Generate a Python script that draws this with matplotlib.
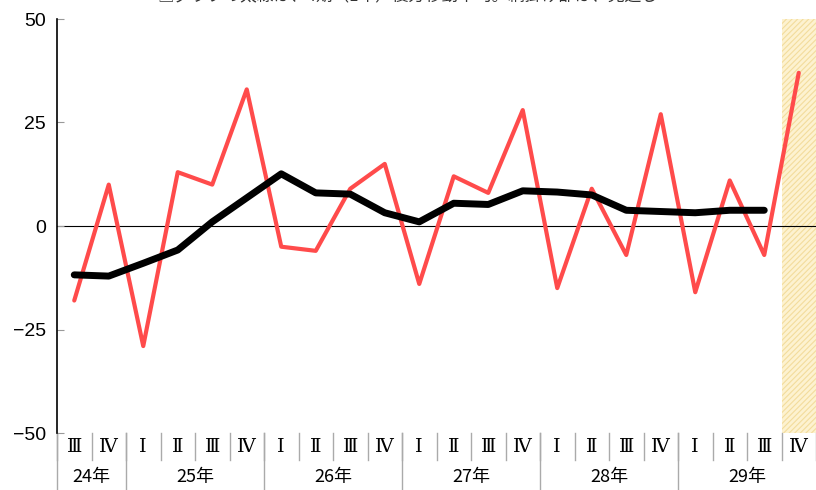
import numpy as np
import matplotlib.pyplot as plt
from matplotlib.patches import Rectangle

plt.rcParams['font.family'] = ['Noto Sans CJK JP', 'DejaVu Sans']
plt.rcParams['hatch.linewidth'] = 0.8

# Quarter labels and year groups
quarters = ['Ⅲ', 'Ⅳ', 'Ⅰ', 'Ⅱ', 'Ⅲ', 'Ⅳ', 'Ⅰ', 'Ⅱ', 'Ⅲ', 'Ⅳ', 'Ⅰ', 'Ⅱ',
            'Ⅲ', 'Ⅳ', 'Ⅰ', 'Ⅱ', 'Ⅲ', 'Ⅳ', 'Ⅰ', 'Ⅱ', 'Ⅲ', 'Ⅳ']
years = ['24年', '25年', '26年', '27年', '28年', '29年']
year_len = [2, 4, 4, 4, 4, 4]

# Quarterly values (thin red line)
values = [-18, 10, -29, 13, 10, 33, -5, -6, 9, 15, -14, 12,
          8, 28, -15, 9, -7, 27, -16, 11, -7, 37]
# 4-quarter moving average (thick black line), ends at 29年 III
moving_avg = [-11.8, -12.1, -9, -5.8, 1, 6.8, 12.6, 8, 7.7, 3.2, 1, 5.5,
              5.2, 8.5, 8.2, 7.5, 3.8, 3.5, 3.2, 3.8, 3.8]

n = len(quarters)
x = np.arange(n)

fig = plt.figure(figsize=(8.16, 4.9), dpi=100)
ax = fig.add_axes([57 / 816, 57 / 490, 1 - 57 / 816, (433 - 19) / 490])

ax.set_xlim(-0.5, n - 0.5)
ax.set_ylim(-50, 50)

# forecast shading
ax.add_patch(Rectangle((n - 1.5, -50), 1, 100, facecolor='#fdf2d0',
                       edgecolor='#f3dc9c', hatch='//////', lw=0, zorder=0))

ax.axhline(0, color='black', lw=0.8, zorder=1)
ax.plot(x, values, color='#ff4b4b', lw=3, solid_capstyle='round',
        solid_joinstyle='round', zorder=2)
ax.plot(x[:len(moving_avg)], moving_avg, color='black', lw=5,
        solid_capstyle='round', solid_joinstyle='round', zorder=3)

for s in ['top', 'right', 'bottom']:
    ax.spines[s].set_visible(False)
ax.spines['left'].set_color('black')
ax.spines['left'].set_linewidth(1.2)

ax.set_yticks([-50, -25, 0, 25, 50])
ax.set_yticklabels(['−50', '−25', '0', '25', '50'], fontsize=14,
                   family=['Liberation Sans', 'DejaVu Sans'])
ax.tick_params(axis='y', direction='in', length=5, color='#999999', pad=8)
ax.set_xticks([])

# category axis drawn below the plot
trans = ax.get_xaxis_transform()
row1 = -27 / 414
row2 = -57 / 414
for i, q in enumerate(quarters):
    ax.text(i, -14 / 414, q, transform=trans, ha='center', va='center',
            fontsize=14, family=['DejaVu Serif', 'Noto Sans CJK JP'])
for k in range(n + 1):
    ax.plot([k - 0.5, k - 0.5], [0, row1], transform=trans, color='#aaaaaa',
            lw=1, clip_on=False)
start = 0
for y, L in zip(years, year_len):
    ax.plot([start - 0.5, start - 0.5], [0, row2], transform=trans,
            color='#aaaaaa', lw=1, clip_on=False)
    ax.text(start + (L - 1) / 2, -44 / 414, y, transform=trans, ha='center',
            va='center', fontsize=13)
    start += L

# note at the top, clipped by the image edge as in the original
fig.text(0.5, 1 + 3 / 490, '□グラフの太線は、4期（1年）後方移動平均。網掛け部は、見通し',
         ha='center', va='center', fontsize=12, color='#333333')

fig.savefig('out.png', dpi=100)
